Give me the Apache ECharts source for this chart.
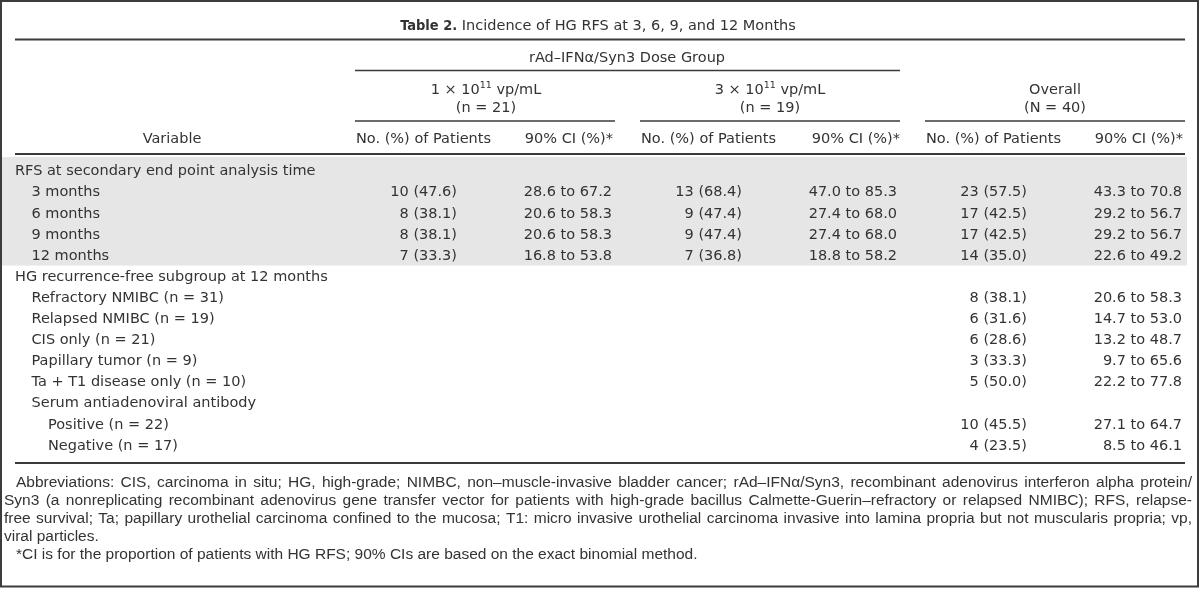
<!DOCTYPE html>
<html><head><meta charset="utf-8">
<script src="https://cdn.jsdelivr.net/npm/echarts@6/dist/echarts.min.js"></script>
<style>html,body{margin:0;padding:0;background:#fff}#c{width:1200px;height:589px}</style>
</head><body><div id="c"></div><script>
// ---------- DATA ----------
const titleBold = 'Table 2.';
const titleText = 'Incidence of HG RFS at 3, 6, 9, and 12 Months';
const spanHeader = 'rAd–IFNα/Syn3 Dose Group';
const doseMultipliers = ['1', '3'];
const groupSizes = ['(n = 21)', '(n = 19)', '(N = 40)'];
const overallLabel = 'Overall';
const variableHeader = 'Variable';
const countHeader = 'No. (%) of Patients';
const ciHeader = '90% CI (%)*';

const rowLabels = [
  'RFS at secondary end point analysis time',
  '3 months', '6 months', '9 months', '12 months',
  'HG recurrence-free subgroup at 12 months',
  'Refractory NMIBC (n = 31)', 'Relapsed NMIBC (n = 19)', 'CIS only (n = 21)',
  'Papillary tumor (n = 9)', 'Ta + T1 disease only (n = 10)',
  'Serum antiadenoviral antibody', 'Positive (n = 22)', 'Negative (n = 17)'
];
const rowIndent = [0, 1, 1, 1, 1, 0, 1, 1, 1, 1, 1, 1, 2, 2];
const shadedRows = [0, 1, 2, 3, 4];

const dose1Count  = [null, 10, 8, 8, 7, null, null, null, null, null, null, null, null, null];
const dose1Pct    = [null, 47.6, 38.1, 38.1, 33.3, null, null, null, null, null, null, null, null, null];
const dose1CiLow  = [null, 28.6, 20.6, 20.6, 16.8, null, null, null, null, null, null, null, null, null];
const dose1CiHigh = [null, 67.2, 58.3, 58.3, 53.8, null, null, null, null, null, null, null, null, null];

const dose3Count  = [null, 13, 9, 9, 7, null, null, null, null, null, null, null, null, null];
const dose3Pct    = [null, 68.4, 47.4, 47.4, 36.8, null, null, null, null, null, null, null, null, null];
const dose3CiLow  = [null, 47.0, 27.4, 27.4, 18.8, null, null, null, null, null, null, null, null, null];
const dose3CiHigh = [null, 85.3, 68.0, 68.0, 58.2, null, null, null, null, null, null, null, null, null];

const overallCount  = [null, 23, 17, 17, 14, null, 8, 6, 6, 3, 5, null, 10, 4];
const overallPct    = [null, 57.5, 42.5, 42.5, 35.0, null, 38.1, 31.6, 28.6, 33.3, 50.0, null, 45.5, 23.5];
const overallCiLow  = [null, 43.3, 29.2, 29.2, 22.6, null, 20.6, 14.7, 13.2, 9.7, 22.2, null, 27.1, 8.5];
const overallCiHigh = [null, 70.8, 56.7, 56.7, 49.2, null, 58.3, 53.0, 48.7, 65.6, 77.8, null, 64.7, 46.1];

const footnoteLines = [
  'Abbreviations: CIS, carcinoma in situ; HG, high-grade; NIMBC, non–muscle-invasive bladder cancer; rAd–IFNα/Syn3, recombinant adenovirus interferon alpha protein/',
  'Syn3 (a nonreplicating recombinant adenovirus gene transfer vector for patients with high-grade bacillus Calmette-Guerin–refractory or relapsed NMIBC); RFS, relapse-',
  'free survival; Ta; papillary urothelial carcinoma confined to the mucosa; T1: micro invasive urothelial carcinoma invasive into lamina propria but not muscularis propria; vp,',
  'viral particles.',
  '*CI is for the proportion of patients with HG RFS; 90% CIs are based on the exact binomial method.'
];

// ---------- LAYOUT / STYLE ----------
const FONT = 'DejaVu Sans';
const NOTE_FONT = 'Liberation Sans';
const FS = 14.5;
const NOTE_FS = 15.5;
const INK = '#333333';
const RULE = '#3a3a3a';
const SHADE = '#e6e6e6';
const L = 15, R = 1185;
const ROW_TOP = 161, ROW_H = 21.1;
const INDENT = 16.5;
const labelX = 15;
const numRight = [457, 612, 742, 897, 1027, 1182];
const groupCenters = [486, 770, 1055];
const groupLines = [[355, 615], [640, 900], [925, 1185]];
const countLeft = [356, 641, 926];
const ciRight = [613, 900, 1183];
const noteX = [16, 4, 4, 4, 16];
const noteJustify = [true, true, true, false, false];
const noteRight = 1192;
const noteTop = 483, noteStep = 18;

const fmt1 = v => v.toFixed(1);
const groups = [
  [dose1Count, dose1Pct, dose1CiLow, dose1CiHigh],
  [dose3Count, dose3Pct, dose3CiLow, dose3CiHigh],
  [overallCount, overallPct, overallCiLow, overallCiHigh]
];

// cells
const cells = [];
rowLabels.forEach((lab, i) => {
  cells.push({x: labelX + rowIndent[i] * INDENT, row: i, text: lab, align: 'left'});
  groups.forEach((g, gi) => {
    if (g[0][i] == null) return;
    cells.push({x: numRight[gi * 2], row: i, text: g[0][i] + ' (' + fmt1(g[1][i]) + ')', align: 'right'});
    cells.push({x: numRight[gi * 2 + 1], row: i, text: fmt1(g[2][i]) + ' to ' + fmt1(g[3][i]), align: 'right'});
  });
});

const txt = (x, y, text, align, extra) => ({
  type: 'text', x: x, y: y, silent: true,
  style: Object.assign({text: text, fontFamily: FONT, fontSize: FS, fill: INK,
    align: align || 'center', verticalAlign: 'middle'}, extra || {})
});
const hline = (x1, x2, y, w) => ({
  type: 'line', silent: true,
  shape: {x1: x1, y1: y, x2: x2, y2: y},
  style: {stroke: RULE, lineWidth: w}
});

const graphics = [];
graphics.push({type: 'rect', silent: true, shape: {x: 1, y: 1, width: 1197, height: 585.5},
  style: {fill: null, stroke: '#3c3c3c', lineWidth: 2}});
graphics.push(txt(598, 26, '{b|' + titleBold + '} ' + titleText, 'center', {
  rich: {b: {fontFamily: 'DejaVu Sans Condensed', fontWeight: 'bold', fontSize: FS, fill: INK}}
}));
graphics.push(hline(L, R, 39.5, 2));
graphics.push(txt(627, 58, spanHeader));
graphics.push(hline(355, 900, 70.5, 1.6));
doseMultipliers.forEach((m, i) => {
  graphics.push(txt(groupCenters[i], 90, m + ' × 10{sup|11} vp/mL', 'center', {
    lineHeight: 18,
    rich: {sup: {fontFamily: FONT, fontSize: 9.5, fill: INK, verticalAlign: 'top', lineHeight: 9}}
  }));
});
graphics.push(txt(groupCenters[2], 90, overallLabel));
groupSizes.forEach((s, i) => graphics.push(txt(groupCenters[i], 108, s)));
groupLines.forEach(gl => graphics.push(hline(gl[0], gl[1], 121, 1.6)));
graphics.push(txt(172, 139, variableHeader));
countLeft.forEach(x => graphics.push(txt(x, 139, countHeader, 'left')));
ciRight.forEach(x => graphics.push(txt(x, 139, ciHeader, 'right')));
graphics.push(hline(L, R, 154, 2));
graphics.push(hline(L, R, 463, 2));

// footnotes (justified via measured word widths)
const ctx = document.createElement('canvas').getContext('2d');
ctx.font = NOTE_FS + 'px "' + NOTE_FONT + '"';
footnoteLines.forEach((line, i) => {
  const y = noteTop + i * noteStep;
  const noteStyle = {fontFamily: NOTE_FONT, fontSize: NOTE_FS};
  if (!noteJustify[i]) {
    graphics.push(txt(noteX[i], y, line, 'left', noteStyle));
    return;
  }
  const words = line.split(' ');
  const widths = words.map(w => ctx.measureText(w).width);
  const total = widths.reduce((a, b) => a + b, 0);
  const gap = (noteRight - noteX[i] - total) / (words.length - 1);
  let x = noteX[i];
  words.forEach((w, k) => {
    graphics.push(txt(x, y, w, 'left', noteStyle));
    x += widths[k] + gap;
  });
});

const chart = echarts.init(document.getElementById('c'), null, {renderer: 'canvas'});
chart.setOption({
  animation: false,
  backgroundColor: '#ffffff',
  grid: {left: 0, right: 0, top: ROW_TOP, height: ROW_H * rowLabels.length},
  xAxis: {type: 'value', min: 0, max: 1200, show: false},
  yAxis: {type: 'category', data: rowLabels, inverse: true, show: false},
  graphic: graphics,
  series: [
    {
      type: 'custom', z: 1, silent: true,
      data: [[0, shadedRows[0]]],
      renderItem: function (params, api) {
        const h = api.size([0, 1])[1];
        const top = api.coord([0, shadedRows[0]])[1] - h / 2 - 4;
        const bot = api.coord([0, shadedRows[shadedRows.length - 1]])[1] + h / 2 - 1;
        return {type: 'rect', shape: {x: 2, y: top, width: 1185, height: bot - top},
          style: {fill: SHADE}};
      }
    },
    {
      type: 'custom', z: 3, silent: true,
      data: cells.map(c => [c.x, c.row]),
      renderItem: function (params, api) {
        const c = cells[params.dataIndex];
        const p = api.coord([api.value(0), api.value(1)]);
        return {type: 'text', x: p[0], y: p[1],
          style: {text: c.text, fontFamily: FONT, fontSize: FS, fill: INK,
            align: c.align, verticalAlign: 'middle'}};
      }
    }
  ]
});
</script></body></html>
